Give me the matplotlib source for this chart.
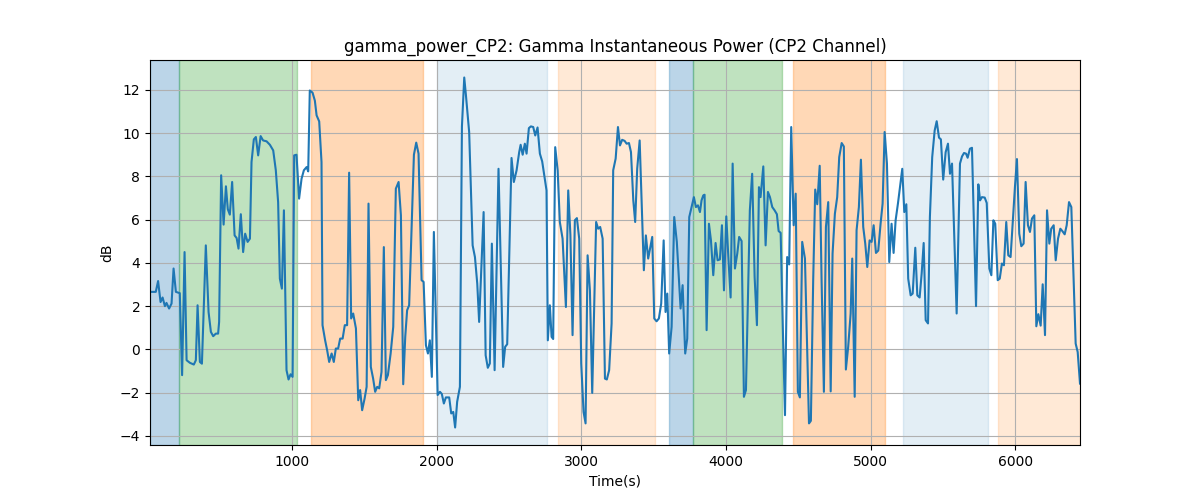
import matplotlib
matplotlib.use("Agg")
import matplotlib.pyplot as plt

# Time (s) and gamma power (dB)
times = [
    17, 57, 73, 90, 104, 120, 131, 149, 166, 180, 196, 223, 239, 256, 270, 293, 320, 334, 346, 362,
    376, 403, 422, 438, 454, 472, 488, 495, 509, 526, 542, 555, 569, 585, 602, 616, 629, 645, 661, 675,
    692, 708, 719, 735, 749, 765, 782, 799, 823, 846, 869, 887, 903, 915, 929, 943, 961, 975, 989, 1003,
    1014, 1030, 1048, 1065, 1081, 1100, 1111, 1122, 1141, 1157, 1169, 1187, 1203, 1210, 1228, 1242, 1256, 1273, 1288, 1302,
    1318, 1332, 1349, 1364, 1380, 1394, 1408, 1422, 1441, 1457, 1470, 1484, 1501, 1515, 1528, 1544, 1560, 1574, 1588, 1602,
    1618, 1634, 1648, 1662, 1681, 1699, 1717, 1736, 1752, 1768, 1782, 1795, 1809, 1833, 1842, 1858, 1874, 1895, 1909, 1925,
    1939, 1952, 1966, 1980, 2006, 2022, 2035, 2049, 2063, 2086, 2100, 2114, 2127, 2141, 2160, 2174, 2190, 2201, 2224, 2248,
    2264, 2280, 2293, 2324, 2338, 2353, 2367, 2381, 2400, 2427, 2459, 2473, 2487, 2517, 2533, 2552, 2570, 2580, 2594, 2609,
    2621, 2637, 2651, 2667, 2681, 2697, 2713, 2729, 2743, 2759, 2768, 2782, 2794, 2805, 2819, 2836, 2851, 2870, 2893, 2909,
    2924, 2939, 2955, 2969, 2985, 2999, 3015, 3029, 3043, 3059, 3075, 3102, 3116, 3130, 3147, 3163, 3176, 3192, 3209, 3220,
    3237, 3253, 3267, 3282, 3299, 3313, 3329, 3343, 3359, 3372, 3386, 3403, 3416, 3432, 3446, 3462, 3490, 3504, 3520, 3536,
    3552, 3569, 3582, 3594, 3607, 3624, 3642, 3660, 3686, 3700, 3718, 3732, 3746, 3762, 3778, 3792, 3806, 3820, 3831, 3843,
    3852, 3866, 3882, 3896, 3912, 3928, 3942, 3958, 3972, 3986, 4002, 4015, 4032, 4046, 4062, 4078, 4091, 4108, 4124, 4138,
    4165, 4181, 4198, 4214, 4228, 4239, 4258, 4274, 4290, 4304, 4320, 4336, 4352, 4364, 4378, 4394, 4408, 4423, 4437, 4451,
    4468, 4482, 4497, 4511, 4527, 4546, 4562, 4574, 4587, 4603, 4617, 4631, 4648, 4661, 4677, 4691, 4707, 4724, 4737, 4753,
    4769, 4783, 4800, 4815, 4829, 4845, 4862, 4873, 4890, 4903, 4919, 4933, 4949, 4963, 4977, 4993, 5007, 5021, 5037, 5053,
    5069, 5083, 5097, 5113, 5129, 5145, 5159, 5173, 5189, 5203, 5219, 5233, 5247, 5260, 5277, 5291, 5309, 5323, 5339, 5353,
    5367, 5381, 5397, 5410, 5426, 5443, 5457, 5473, 5486, 5502, 5519, 5535, 5549, 5563, 5595, 5618, 5632, 5646, 5660, 5671,
    5687, 5701, 5729, 5745, 5757, 5770, 5789, 5803, 5821, 5835, 5849, 5862, 5879, 5893, 5908, 5922, 5938, 5952, 5968, 5984,
    5998, 6012, 6028, 6042, 6058, 6072, 6088, 6102, 6116, 6132, 6146, 6160, 6176, 6190, 6206, 6220, 6236, 6249, 6266, 6280,
    6296, 6312, 6326, 6342, 6356, 6372, 6388, 6418, 6432, 6448,
]
power_db = [
    2.66, 2.66, 3.16, 2.19, 2.4, 2.0, 2.15, 1.89, 2.12, 3.74, 2.66, 2.6, -1.19, 4.5, -0.5, -0.62, -0.7, -0.5, 2.04, -0.58,
    -0.66, 4.81, 1.73, 0.81, 0.61, 0.73, 0.73, 1.27, 8.05, 5.77, 7.54, 6.48, 6.23, 7.74, 5.27, 5.15, 4.66, 6.25, 4.5, 5.35,
    4.97, 5.12, 8.66, 9.71, 9.82, 8.97, 9.86, 9.66, 9.62, 9.46, 9.2, 8.28, 6.81, 3.27, 2.81, 6.43, -0.96, -1.39, -1.15, -1.27,
    8.97, 9.0, 6.97, 7.89, 8.28, 8.43, 8.23, 11.97, 11.87, 11.5, 10.82, 10.54, 8.66, 1.12, 0.42, -0.04, -0.58, -0.19, -0.58, 0.04,
    0.04, 0.5, 0.5, 1.12, 1.12, 8.17, 1.43, 1.66, 0.97, -2.35, -1.88, -2.81, -2.27, -1.73, 6.74, -0.81, -1.35, -1.96, -1.73, -1.8,
    -1.04, 4.73, -1.42, -1.19, -0.19, 1.04, 7.43, 7.74, 6.2, -1.61, 0.58, 1.81, 2.04, 7.12, 9.0, 9.56, 9.05, 3.2, 3.12, 0.19,
    -0.19, 0.42, -1.27, 5.43, -2.11, -1.96, -2.06, -2.5, -2.22, -2.22, -2.96, -2.89, -3.61, -2.42, -1.73, 10.3, 12.57, 11.8, 10.05, 4.81,
    4.27, 3.04, 1.27, 6.35, -0.27, -0.85, -0.65, 4.89, -0.96, 8.35, -0.81, 0.12, 0.24, 8.85, 7.74, 8.28, 9.12, 9.46, 9.0, 9.51,
    9.05, 10.23, 10.31, 10.28, 9.89, 10.26, 9.05, 8.69, 8.08, 7.35, 0.42, 2.04, 0.58, 0.48, 9.35, 8.28, 5.89, 5.12, 1.96, 7.35,
    5.3, 0.66, 5.97, 6.07, 5.12, -0.65, -2.89, -3.42, 4.35, 2.73, -2.01, 5.89, 5.58, 5.66, 5.12, -1.35, -1.39, -0.96, 1.2, 8.28,
    8.82, 10.28, 9.43, 9.69, 9.64, 9.51, 9.54, 9.12, 6.89, 5.89, 8.35, 9.66, 6.97, 3.66, 5.27, 4.2, 5.2, 1.43, 1.3, 1.43,
    2.12, 5.04, 1.73, 2.58, -0.19, 1.04, 6.12, 4.97, 1.89, 2.97, -0.19, 0.5, 6.12, 6.58, 7.04, 6.58, 6.66, 6.35, 6.89, 7.12,
    7.15, 0.89, 5.81, 5.04, 3.43, 4.92, 4.12, 4.16, 5.74, 2.73, 6.15, 4.43, 2.4, 8.59, 3.74, 4.43, 5.2, 5.01, -2.19, -1.88,
    6.43, 8.12, 3.35, 1.12, 7.5, 7.04, 8.46, 4.81, 7.28, 7.04, 6.58, 6.43, 6.25, 5.47, 5.39, 0.73, -3.04, 4.27, 3.93, 10.28,
    5.74, 7.2, -1.96, -2.22, 4.97, 4.2, -0.04, -3.42, -3.3, 3.2, 7.39, 6.71, 8.49, 3.2, -1.96, 5.66, 6.81, -1.94, 4.43, 6.27,
    7.04, 8.89, 9.54, 9.38, -0.93, 0.12, 1.66, 4.2, -2.19, 5.51, 6.58, 8.77, 5.66, 4.89, 3.81, 5.04, 4.97, 5.74, 4.46, 4.57,
    5.81, 6.74, 10.05, 8.59, 4.04, 5.81, 4.46, 5.97, 6.74, 7.5, 8.35, 6.35, 6.71, 3.27, 2.5, 2.58, 4.7, 2.5, 2.4, 3.5,
    4.92, 1.35, 1.2, 6.12, 8.89, 10.12, 10.55, 9.79, 9.71, 7.85, 9.12, 9.51, 8.12, 8.59, 1.66, 8.59, 8.92, 9.08, 9.05, 8.86,
    9.28, 9.32, 2.0, 7.63, 6.89, 7.04, 7.02, 6.77, 3.74, 3.43, 5.97, 5.81, 3.2, 3.27, 3.97, 3.89, 5.89, 4.35, 4.27, 5.97,
    7.5, 8.8, 5.35, 4.77, 4.89, 7.74, 5.74, 5.43, 6.05, 6.2, 1.07, 1.63, 1.1, 3.01, 0.66, 6.43, 4.89, 5.58, 5.74, 4.12,
    5.12, 5.58, 5.47, 5.32, 5.74, 6.81, 6.58, 0.27, -0.12, -1.58,
]

# Shaded periods
span_starts = [17, 216, 1129, 2005, 2838, 3607, 3773, 4463, 5223, 5880]
span_ends = [216, 1033, 1904, 2759, 3509, 3773, 4385, 5099, 5809, 6448]
span_colors = ["C0", "C2", "C1", "C0", "C1", "C0", "C2", "C1", "C0", "C1"]
span_alphas = [0.3, 0.3, 0.3, 0.12, 0.17, 0.3, 0.3, 0.3, 0.12, 0.17]

fig, ax = plt.subplots(figsize=(12, 5), dpi=100)
for s, e, c, a in zip(span_starts, span_ends, span_colors, span_alphas):
    ax.axvspan(s, e, color=c, alpha=a)
ax.plot(times, power_db, color="C0", linewidth=1.5)
ax.set_xlim(times[0], times[-1])
ax.grid(True)
ax.set_title("gamma_power_CP2: Gamma Instantaneous Power (CP2 Channel)")
ax.set_xlabel("Time(s)")
ax.set_ylabel("dB")
fig.savefig("out.png", dpi=100)
